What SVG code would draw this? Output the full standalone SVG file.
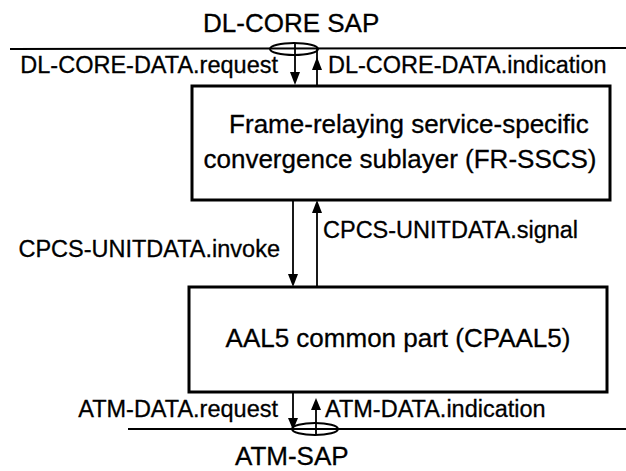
<svg xmlns="http://www.w3.org/2000/svg" width="626" height="471" viewBox="0 0 626 471">
<style>
text{font-family:"Liberation Sans",Arial,sans-serif;fill:#000;stroke:#000;stroke-width:0.3}
.lbl{font-size:23.5px}
.big{font-size:26px}
.box{fill:#fff;stroke:#000;stroke-width:3}
.ln{stroke:#000;stroke-width:2;fill:none}
.ar{stroke:#000;stroke-width:1.8;fill:none}
.hd{fill:#000;stroke:none}
</style>
<rect width="626" height="471" fill="#fff"/>
<g id="dl-core-sap">
<text class="big" x="203" y="32">DL-CORE SAP</text>
<line class="ln" x1="10" y1="49" x2="626" y2="48"/>
<ellipse class="ln" cx="294" cy="49" rx="24" ry="6"/>
</g>
<g id="fr-sscs">
<rect class="box" x="192" y="86" width="418" height="114"/>
<text class="big" x="409" y="133" text-anchor="middle">Frame-relaying service-specific</text>
<text class="big" x="400" y="168" text-anchor="middle">convergence sublayer (FR-SSCS)</text>
</g>
<g id="cpaal5">
<rect class="box" x="189" y="287" width="418" height="105"/>
<text class="big" x="398" y="347" text-anchor="middle">AAL5 common part (CPAAL5)</text>
</g>
<g id="atm-sap">
<line class="ln" x1="128" y1="429" x2="626" y2="429"/>
<ellipse class="ln" cx="315" cy="429" rx="23" ry="6"/>
<text class="big" x="235" y="465">ATM-SAP</text>
</g>
<g id="connectors">
<line class="ar" x1="295" y1="43" x2="295" y2="74"/>
<polygon class="hd" points="290,72 300,72 295,85"/>
<line class="ar" x1="317" y1="49" x2="317" y2="86"/>
<polygon class="hd" points="312,70 322,70 317,57"/>
<line class="ar" x1="293" y1="200" x2="293" y2="276"/>
<polygon class="hd" points="288,274 298,274 293,287"/>
<line class="ar" x1="317" y1="287" x2="317" y2="210"/>
<polygon class="hd" points="312,213 322,213 317,200"/>
<line class="ar" x1="293" y1="392" x2="293" y2="420"/>
<polygon class="hd" points="288,418 298,418 293,430"/>
<line class="ar" x1="316" y1="435" x2="316" y2="405"/>
<polygon class="hd" points="311,410 321,410 316,398"/>
</g>
<g id="labels">
<text class="lbl" x="278" y="73" text-anchor="end">DL-CORE-DATA.request</text>
<text class="lbl" x="328" y="73">DL-CORE-DATA.indication</text>
<text class="lbl" x="280" y="257" text-anchor="end">CPCS-UNITDATA.invoke</text>
<text class="lbl" x="323" y="238">CPCS-UNITDATA.signal</text>
<text class="lbl" x="278" y="417" text-anchor="end">ATM-DATA.request</text>
<text class="lbl" x="325" y="417">ATM-DATA.indication</text>
</g>
</svg>
